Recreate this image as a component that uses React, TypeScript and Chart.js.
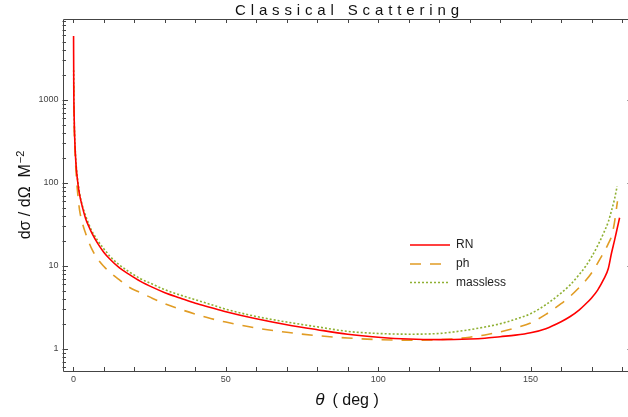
import React, { useEffect, useRef } from "react";
import { Chart, registerables } from "chart.js";

Chart.register(...registerables);

// ---------- text ----------
const TITLE = "Classical Scattering";
const X_TITLE_SYMBOL = "θ";
const X_TITLE_REST = "( deg )";
const Y_TITLE_MAIN = "dσ / dΩ  M";
const Y_TITLE_SUP = "−2";
const SERIES_NAMES = ["RN", "ph", "massless"];

// ---------- axes ----------
const X_MIN = -3.6;
const X_MAX = 183.6;
const Y_MIN = 0.54;
const Y_MAX = 9440;
const X_TICKS = [0, 10, 20, 30, 40, 50, 60, 70, 80, 90, 100, 110, 120, 130, 140, 150, 160, 170, 180];
const X_LABELED_TICKS = [0, 50, 100, 150];
const Y_DECADES = [0.1, 1, 10, 100, 1000];
const Y_LABELED_TICKS = [1, 10, 100, 1000];

// ---------- data ----------
const rnTheta = [0.03, 0.1, 0.2, 0.4, 0.7, 1, 1.5, 2, 3, 4, 5, 6, 8, 10, 12, 15, 18, 22, 26, 30, 35, 40, 45, 50, 60, 70, 80, 90, 100, 110, 120, 130, 135, 140, 145, 150, 155, 160, 163, 166, 168, 170, 172, 174, 175.5, 176.5, 177.5, 178.3, 179.2];
const rnValue = [5900, 1400, 700, 350, 200, 140, 95, 72, 50, 37, 30, 25, 18.5, 14.5, 12, 9.5, 8.0, 6.5, 5.5, 4.75, 4.1, 3.55, 3.15, 2.8, 2.3, 1.95, 1.7, 1.5, 1.38, 1.31, 1.29, 1.31, 1.34, 1.4, 1.46, 1.56, 1.75, 2.12, 2.45, 2.95, 3.45, 4.1, 5.1, 6.9, 9.3, 14, 20, 27, 38];

const phTheta = [0.08, 0.2, 0.4, 0.7, 1.0, 1.5, 2, 3, 4, 5, 6, 8, 10, 12, 15, 18, 22, 26, 30, 35, 40, 45, 50, 60, 70, 80, 90, 100, 110, 120, 125, 130, 135, 140, 145, 150, 155, 160, 163, 166, 168, 170, 172, 174, 175.5, 176.6, 177.5, 178.5];
const phValue = [1500, 600, 300, 170, 110, 68, 47, 32, 24.5, 19.5, 16, 12, 9.8, 8.3, 6.8, 5.6, 4.75, 4.05, 3.5, 3.0, 2.62, 2.32, 2.1, 1.78, 1.58, 1.44, 1.35, 1.29, 1.27, 1.29, 1.32, 1.38, 1.47, 1.6, 1.78, 2.05, 2.6, 3.5, 4.3, 5.5, 6.6, 8.2, 10.8, 14.5, 18.5, 23, 33, 60];

const mlTheta = [0.06, 0.15, 0.3, 0.5, 0.8, 1.2, 2, 3, 4, 5, 6, 8, 10, 12, 15, 18, 22, 26, 30, 35, 40, 45, 50, 60, 70, 80, 90, 100, 110, 120, 125, 130, 135, 140, 145, 150, 155, 160, 163, 166, 168, 170, 172, 174, 175.5, 176.6, 177.5, 178.4];
const mlValue = [2280, 950, 480, 290, 180, 122, 75, 52, 40, 32, 26.5, 20, 16, 13, 10.3, 8.6, 7.0, 6.0, 5.15, 4.45, 3.9, 3.42, 3.0, 2.45, 2.1, 1.84, 1.62, 1.53, 1.5, 1.53, 1.6, 1.7, 1.83, 2.0, 2.27, 2.65, 3.4, 4.7, 5.9, 7.9, 9.8, 12.8, 17.5, 25, 34, 47, 63, 91];

// ---------- styles ----------
const COLORS = ["#ff0000", "#e19c24", "#8fb032"];
const DASHES: number[][] = [[], [11, 9], [2, 2]];
const WIDTHS = [1.6, 1.6, 1.6];
const FONT = "'Liberation Sans', Arial, sans-serif";

const toPoints = (xs: number[], ys: number[]) => xs.map((x, i) => ({ x, y: ys[i] }));

const decorPlugin = {
  id: "decor",
  afterDraw(chart: any) {
    const { ctx, chartArea, scales } = chart;
    const { left, right, top, bottom } = chartArea;
    const xs = scales.x;
    const ys = scales.y;
    ctx.save();
    // frame
    ctx.strokeStyle = "#444";
    ctx.lineWidth = 1;
    ctx.beginPath();
    ctx.rect(Math.round(left) + 0.5, Math.round(top) + 0.5, Math.round(right - left), Math.round(bottom - top));
    ctx.stroke();
    // x ticks (bottom and top, inward)
    ctx.beginPath();
    xs.ticks.forEach((t: any) => {
      const px = Math.round(xs.getPixelForValue(t.value)) + 0.5;
      ctx.moveTo(px, bottom);
      ctx.lineTo(px, bottom - 4);
      ctx.moveTo(px, top);
      ctx.lineTo(px, top + 4);
    });
    // y ticks (left and right, inward)
    ys.ticks.forEach((t: any) => {
      const py = Math.round(ys.getPixelForValue(t.value)) + 0.5;
      const lg = Math.log10(t.value);
      const major = Math.abs(lg - Math.round(lg)) < 1e-9;
      const len = major ? 5.5 : 3.5;
      ctx.moveTo(left, py);
      ctx.lineTo(left + len, py);
      ctx.moveTo(right, py);
      ctx.lineTo(right - len, py);
    });
    ctx.stroke();

    // title
    ctx.fillStyle = "#111";
    ctx.font = `15px ${FONT}`;
    ctx.textBaseline = "alphabetic";
    ctx.textAlign = "left";
    const targetW = 224;
    (ctx as any).letterSpacing = "0px";
    const rawW = ctx.measureText(TITLE).width;
    const sp = (targetW - rawW) / (TITLE.length - 1);
    (ctx as any).letterSpacing = `${sp}px`;
    ctx.fillText(TITLE, 235, 15);
    (ctx as any).letterSpacing = "0px";

    // x title
    ctx.fillStyle = "#111";
    ctx.font = `italic 17px ${FONT}`;
    const wSym = ctx.measureText(X_TITLE_SYMBOL).width;
    ctx.font = `16px ${FONT}`;
    const gap = 8;
    const wRest = ctx.measureText(X_TITLE_REST).width;
    const total = wSym + gap + wRest;
    const cx = 347;
    const bx = cx - total / 2;
    ctx.font = `italic 17px ${FONT}`;
    ctx.fillText(X_TITLE_SYMBOL, bx, 405);
    ctx.font = `16px ${FONT}`;
    ctx.fillText(X_TITLE_REST, bx + wSym + gap, 405);

    // y title
    ctx.save();
    ctx.translate(30, 195);
    ctx.rotate(-Math.PI / 2);
    ctx.font = `16px ${FONT}`;
    const wMain = ctx.measureText(Y_TITLE_MAIN).width;
    ctx.font = `11px ${FONT}`;
    const wSup = ctx.measureText(Y_TITLE_SUP).width;
    const tw = wMain + wSup + 1;
    ctx.font = `16px ${FONT}`;
    ctx.fillText(Y_TITLE_MAIN, -tw / 2, 0);
    ctx.font = `11px ${FONT}`;
    ctx.fillText(Y_TITLE_SUP, -tw / 2 + wMain + 1, -6);
    ctx.restore();

    // legend
    const rows = [245, 264, 282.5];
    chart.data.datasets.forEach((ds: any, i: number) => {
      const y = rows[i];
      ctx.strokeStyle = ds.borderColor;
      ctx.lineWidth = ds.borderWidth;
      ctx.setLineDash(ds.borderDash || []);
      ctx.beginPath();
      ctx.moveTo(410, y);
      ctx.lineTo(450, y);
      ctx.stroke();
      ctx.setLineDash([]);
      ctx.fillStyle = "#222";
      ctx.font = `12px ${FONT}`;
      ctx.textBaseline = "middle";
      ctx.fillText(ds.label, 456, y);
      ctx.textBaseline = "alphabetic";
    });
    ctx.restore();
  },
};

export default function App() {
  const ref = useRef<HTMLCanvasElement | null>(null);
  useEffect(() => {
    if (!ref.current) return;
    const series = [
      toPoints(rnTheta, rnValue),
      toPoints(phTheta, phValue),
      toPoints(mlTheta, mlValue),
    ];
    const chart = new Chart(ref.current, {
      type: "line",
      data: {
        datasets: series.map((pts, i) => ({
          label: SERIES_NAMES[i],
          data: pts,
          borderColor: COLORS[i],
          backgroundColor: COLORS[i],
          borderWidth: WIDTHS[i],
          borderDash: DASHES[i],
          pointRadius: 0,
          fill: false,
          cubicInterpolationMode: "monotone" as const,
        })),
      },
      options: {
        responsive: false,
        animation: false,
        devicePixelRatio: 1,
        layout: { padding: { top: 19, right: 1, left: 0, bottom: 0 } },
        plugins: {
          legend: { display: false },
          title: { display: false },
          tooltip: { enabled: false },
        },
        scales: {
          x: {
            type: "linear",
            min: X_MIN,
            max: X_MAX,
            grid: { display: false, drawTicks: false },
            border: { display: false },
            afterBuildTicks: (scale: any) => {
              scale.ticks = X_TICKS.map((v) => ({ value: v }));
            },
            afterFit: (scale: any) => {
              scale.height = 46;
            },
            ticks: {
              autoSkip: false,
              maxRotation: 0,
              padding: 3,
              color: "#444",
              font: { size: 9, family: FONT },
              callback: (v: any) => (X_LABELED_TICKS.includes(Number(v)) ? String(v) : ""),
            },
          },
          y: {
            type: "logarithmic",
            min: Y_MIN,
            max: Y_MAX,
            grid: { display: false, drawTicks: false },
            border: { display: false },
            afterBuildTicks: (scale: any) => {
              const t: { value: number }[] = [];
              Y_DECADES.forEach((d) => {
                for (let k = 1; k <= 9; k++) {
                  const v = k * d;
                  if (v >= Y_MIN && v <= Y_MAX) t.push({ value: v });
                }
              });
              scale.ticks = t;
            },
            afterFit: (scale: any) => {
              scale.width = 62.5;
            },
            ticks: {
              autoSkip: false,
              padding: 4,
              color: "#444",
              font: { size: 9, family: FONT },
              callback: (v: any) => {
                const n = Number(v);
                return Y_LABELED_TICKS.some((l) => Math.abs(l - n) < 1e-9) ? String(Math.round(n)) : "";
              },
            },
          },
        },
      },
      plugins: [decorPlugin],
    });
    return () => chart.destroy();
  }, []);

  return (
    <div style={{ position: "fixed", left: 0, top: 0, width: 628, height: 417, overflow: "hidden", background: "#fff" }}>
      <canvas ref={ref} width={634} height={417} style={{ display: "block", width: 634, height: 417 }} />
    </div>
  );
}
